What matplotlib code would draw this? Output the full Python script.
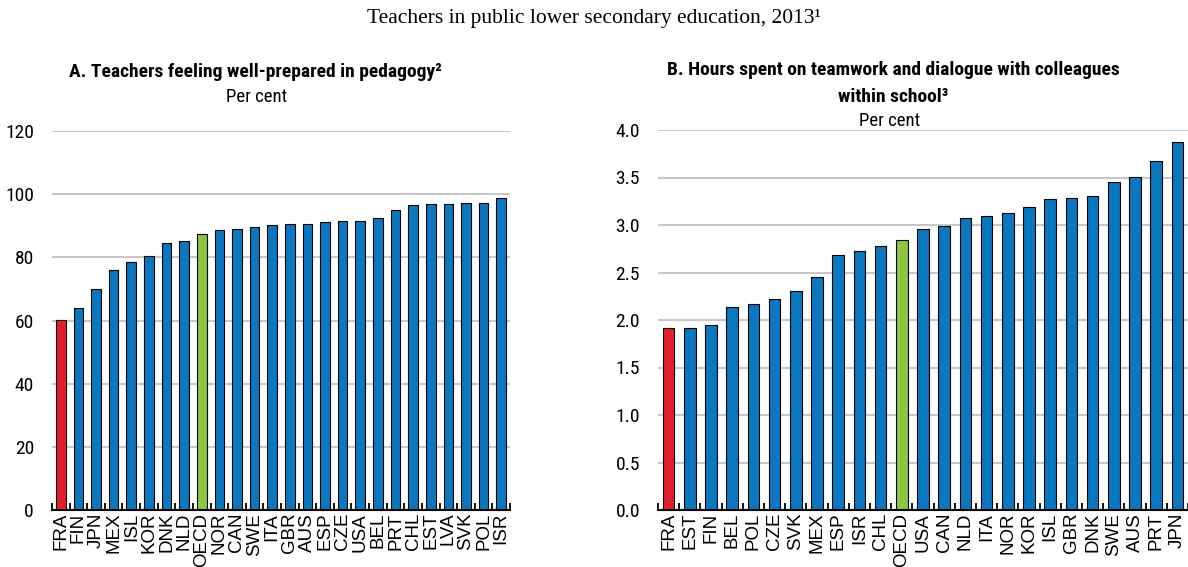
import matplotlib
matplotlib.use("Agg")
import matplotlib.pyplot as plt
import numpy as np

# Panel A: teachers feeling well-prepared in pedagogy (per cent)
countries_a = ["FRA", "FIN", "JPN", "MEX", "ISL", "KOR", "DNK", "NLD", "OECD", "NOR",
               "CAN", "SWE", "ITA", "GBR", "AUS", "ESP", "CZE", "USA", "BEL", "PRT",
               "CHL", "EST", "LVA", "SVK", "POL", "ISR"]
values_a = [60.2, 64.0, 69.9, 75.9, 78.4, 80.5, 84.5, 85.3, 87.3, 88.6,
            88.9, 89.7, 90.2, 90.4, 90.7, 91.2, 91.4, 91.5, 92.5, 94.9,
            96.7, 96.9, 96.9, 97.1, 97.3, 98.7]

# Panel B: hours spent on teamwork and dialogue with colleagues
countries_b = ["FRA", "EST", "FIN", "BEL", "POL", "CZE", "SVK", "MEX", "ESP", "ISR",
               "CHL", "OECD", "USA", "CAN", "NLD", "ITA", "NOR", "KOR", "ISL", "GBR",
               "DNK", "SWE", "AUS", "PRT", "JPN"]
values_b = [1.92, 1.92, 1.95, 2.14, 2.17, 2.22, 2.31, 2.45, 2.68, 2.73,
            2.78, 2.84, 2.96, 2.99, 3.07, 3.10, 3.13, 3.19, 3.27, 3.28,
            3.31, 3.45, 3.51, 3.67, 3.87]

BLUE = "#0a77c0"
RED = "#e2202b"
GREEN = "#8cc63f"
GRID = "#c8c8c8"

narrow = ["Roboto Condensed", "Liberation Sans", "DejaVu Sans"]
plt.rcParams["font.family"] = ["Liberation Sans", "DejaVu Sans"]


def bar_colors(names):
    out = []
    for n in names:
        if n == "FRA":
            out.append(RED)
        elif n == "OECD":
            out.append(GREEN)
        else:
            out.append(BLUE)
    return out


def draw_panel(ax, names, vals, ylim, yticks, fmt):
    x = np.arange(len(names))
    ax.bar(x, vals, width=0.55, color=bar_colors(names), edgecolor="black",
           linewidth=0.8, zorder=3)
    ax.set_xlim(-0.5, len(names) - 0.5)
    ax.set_ylim(*ylim)
    ax.set_yticks(yticks)
    ax.set_yticklabels([fmt.format(t) for t in yticks], family=narrow, fontsize=14)
    ax.set_xticks(x)
    ax.set_xticklabels(names, rotation=90, fontsize=13.5)
    # small ticks between the bars
    ax.set_xticks(np.arange(len(names) + 1) - 0.5, minor=True)
    ax.tick_params(axis="x", which="major", length=0, pad=2)
    ax.tick_params(axis="x", which="minor", direction="in", length=5, width=1.3)
    ax.tick_params(axis="y", length=0, pad=13)
    ax.grid(axis="y", color=GRID, linewidth=1.5, zorder=0)
    for s in ["left", "right", "top"]:
        ax.spines[s].set_visible(False)
    ax.spines["bottom"].set_linewidth(1.5)
    ax.spines["bottom"].set_zorder(4)


fig = plt.figure(figsize=(11.88, 5.67), dpi=100)

fig.text(594 / 1188, 1 - 18 / 567, "Teachers in public lower secondary education, 2013\u00b9",
         ha="center", va="center", family=["Liberation Serif", "DejaVu Serif"], fontsize=15.5)

ax1 = fig.add_axes([52 / 1188, 1 - 510 / 567, (510 - 52) / 1188, (510 - 131) / 567])
draw_panel(ax1, countries_a, values_a, (0, 120), [0, 20, 40, 60, 80, 100, 120], "{:.0f}")
fig.text(255 / 1188, 1 - 72 / 567, "A. Teachers feeling well-prepared in pedagogy\u00b2",
         ha="center", va="center", family=narrow, fontweight="bold", fontsize=14)
fig.text(257 / 1188, 1 - 97 / 567, "Per cent", ha="center", va="center",
         family=narrow, fontsize=13.5)

ax2 = fig.add_axes([658 / 1188, 1 - 510 / 567, (1188 - 658) / 1188, (510 - 130) / 567])
draw_panel(ax2, countries_b, values_b, (0, 4), [0, 0.5, 1, 1.5, 2, 2.5, 3, 3.5, 4], "{:.1f}")
fig.text(893 / 1188, 1 - 70 / 567, "B. Hours spent on teamwork and dialogue with colleagues",
         ha="center", va="center", family=narrow, fontweight="bold", fontsize=14)
fig.text(893 / 1188, 1 - 97 / 567, "within school\u00b3",
         ha="center", va="center", family=narrow, fontweight="bold", fontsize=14)
fig.text(890 / 1188, 1 - 121 / 567, "Per cent", ha="center", va="center",
         family=narrow, fontsize=13.5)

fig.savefig("out.png", dpi=100)
